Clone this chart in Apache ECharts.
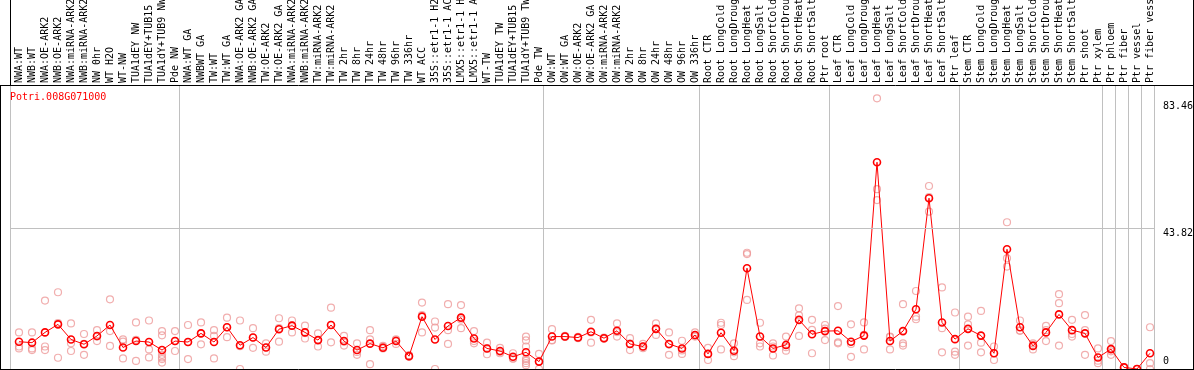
<!DOCTYPE html>
<html>
<head>
<meta charset="utf-8">
<script src="https://cdn.jsdelivr.net/npm/echarts@6/dist/echarts.min.js"></script>
<style>
html,body{margin:0;padding:0;background:#fff;}
#chart{width:1194px;height:370px;}
</style>
</head>
<body>
<div id="chart"></div>
<script>
const geneName = 'Potri.008G071000';

const categories = [
'NWA:WT','NWB:WT','NWA:OE-ARK2','NWB:OE-ARK2','NWA:miRNA-ARK2','NWB:miRNA-ARK2','NW 0hr','WT H2O','WT-NW','TUA1dEY NW','TUA1dEY+TUB15 NW','TUA1dY+TUB9 NW','Pde NW',
'NWA:WT GA','NWBWT GA','TW:WT','TW:WT GA','NWA:OE-ARK2 GA','NWB:OE-ARK2 GA','TW:OE-ARK2','TW:OE-ARK2 GA','NWA:miRNA-ARK2','NWB:miRNA-ARK2','TW:miRNA-ARK2','TW:miRNA-ARK2','TW 2hr','TW 8hr','TW 24hr','TW 48hr','TW 96hr','TW 336hr','WT ACC','35S::etr1-1 H2O','35S::etr1-1 ACC','LMX5::etr1-1 H2O','LMX5::etr1-1 ACC','WT-TW','TUA1dEY TW','TUA1dEY+TUB15 TW','TUA1dY+TUB9 TW','Pde TW',
'OW:WT','OW:WT GA','OW:OE-ARK2','OW:OE-ARK2 GA','OW:miRNA-ARK2','OW:miRNA-ARK2','OW 2hr','OW 8hr','OW 24hr','OW 48hr','OW 96hr','OW 336hr',
'Root CTR','Root LongCold','Root LongDrought','Root LongHeat','Root LongSalt','Root ShortCold','Root ShortDrought','Root ShortHeat','Root ShortSalt','Ptr root',
'Leaf CTR','Leaf LongCold','Leaf LongDrought','Leaf LongHeat','Leaf LongSalt','Leaf ShortCold','Leaf ShortDrought','Leaf ShortHeat','Leaf ShortSalt','Ptr leaf',
'Stem CTR','Stem LongCold','Stem LongDrought','Stem LongHeat','Stem LongSalt','Stem ShortCold','Stem ShortDrought','Stem ShortHeat','Stem ShortSalt','Ptr shoot','Ptr xylem',
'Ptr phloem','Ptr fiber','Ptr vessel','Ptr fiber vessel'
];

// index of first category of each sample group (group separators)
const groupStarts = [0, 13, 41, 53, 63, 73, 84, 85, 86, 87];

// y-axis labels shown on the right
const yTickLabels = [43.82, 83.46];
const yZeroLabel = [0];
const yMax = 88.45;

const meanValues = [
8.5, 8.2, 11.4, 13.9, 9.2, 7.7, 10.3, 13.7, 6.7, 8.7, 8.4, 5.9, 8.7,
8.4, 11.1, 8.4, 13.0, 7.4, 9.8, 6.7, 12.4, 13.5, 11.4, 9.0, 13.7, 8.7, 5.9, 7.9, 6.6, 8.7, 4.0, 16.3, 9.2, 13.4, 16.0, 9.5, 6.4, 5.6, 3.8, 5.2, 2.3,
10.1, 10.1, 9.8, 11.6, 9.6, 11.9, 7.8, 7.0, 12.5, 7.8, 6.4, 10.6,
4.7, 11.3, 5.7, 31.4, 10.1, 6.4, 7.5, 15.3, 10.8, 11.8,
11.9, 8.5, 10.4, 64.4, 8.7, 11.8, 18.6, 53.2, 14.5, 9.3,
12.5, 10.4, 4.9, 37.3, 13.0, 7.2, 11.4, 17.0, 12.1, 11.1, 3.6,
6.2, 0.5, 0.0, 4.9
];

const replicateValues = [
[11.4, 7.0, 6.4], [11.4, 6.4, 5.9], [21.3, 7.0, 5.9], [23.9, 3.5, 14.3], [14.2, 8.0, 5.6], [10.9, 4.4, 7.8], [12.1, 10.1, 8.7], [21.7, 11.8, 7.2], [9.2, 8.5, 3.3], [14.5, 9.1, 2.5], [15.1, 6.1, 3.6], [11.8, 10.5, 4.4, 3.1, 2.0, 3.6], [11.8, 5.6, 8.7],
[13.7, 3.1, 8.4], [14.5, 7.7, 11.1], [12.1, 10.3, 3.3], [16.0, 9.9, 13.0], [15.1, 0.0, 7.1], [12.7, 6.6, 9.8], [8.0, 5.4, 6.7], [15.8, 8.5, 12.7], [15.1, 11.4, 13.6], [13.5, 9.5, 11.2], [11.1, 7.0, 9.0], [19.1, 8.3, 13.7], [10.3, 7.3, 8.5], [8.0, 4.4, 5.3], [12.1, 9.2, 1.5], [7.2, 6.4, 6.9], [9.2, 7.8, 9.0], [4.0, 3.8, 4.3], [20.7, 11.4, 16.8], [14.8, 12.9, 0.0], [20.2, 12.1, 7.8], [19.9, 12.7, 15.4], [11.8, 8.0, 8.7], [8.2, 4.6, 6.4], [6.6, 4.9, 5.3], [4.9, 3.3, 3.2], [10.1, 8.9, 7.0, 3.1, 2.5, 1.8, 1.2], [4.7, 0.0, 2.3],
[12.4, 9.0, 8.9], [10.0, 10.3, 10.1], [9.6, 10.0, 9.8], [15.3, 8.2, 11.4], [9.6, 9.4, 9.8], [14.2, 10.1, 11.5], [9.6, 5.9, 7.9], [7.8, 7.0, 6.5], [14.2, 10.6, 12.6], [11.4, 4.4, 7.6], [8.8, 4.7, 5.8], [11.4, 10.1, 10.4],
[6.6, 2.8, 4.7], [14.4, 13.7, 6.1], [8.0, 4.0, 5.2], [36.2, 35.8, 21.5], [14.4, 8.0, 7.0], [8.0, 4.2, 7.0], [10.1, 5.7, 6.8], [18.9, 10.3, 16.7], [15.3, 4.9, 12.2], [13.7, 9.0, 12.6],
[19.6, 8.3, 8.0], [13.9, 3.8, 7.8], [14.5, 6.1, 10.6], [84.3, 56.0, 52.6], [10.1, 6.1, 9.9], [20.2, 8.0, 7.3], [24.3, 16.3, 15.5], [57.0, 49.0, 53.5], [25.4, 12.7, 5.2], [17.6, 5.4, 4.4],
[16.3, 7.3, 13.9], [18.1, 8.2, 5.2], [7.0, 2.8, 4.9], [45.7, 34.5, 31.9], [15.1, 11.9, 12.0], [8.0, 6.1, 7.5], [13.4, 8.7, 12.1], [23.3, 20.5, 7.3], [15.3, 10.1, 10.9], [16.8, 4.4, 12.1], [6.4, 1.8, 2.6],
[8.7, 4.4, 5.5], [0.6, 0.4, 0.5], [0.0, 0.0, 0.0], [13.0, 1.8, 0.0]
];

const replicatePoints = [];
replicateValues.forEach((reps, i) => reps.forEach(v => replicatePoints.push([i, v])));

const FONT = 'DejaVu Sans Mono';
const isGroupStart = (idx) => groupStarts.indexOf(idx) >= 0;

const chart = echarts.init(document.getElementById('chart'), null, {renderer: 'canvas'});
chart.setOption({
  animation: false,
  backgroundColor: '#fff',
  title: {
    text: geneName, left: 10, top: 92, padding: 0,
    textStyle: {color: '#ff0000', fontFamily: FONT, fontSize: 10, fontWeight: 'normal'}
  },
  grid: [
    {left: 10, top: 85, width: 1144, height: 284, outerBoundsMode: 'none', containLabel: false},
    {left: 12.5, top: 85, width: 1144, height: 284, outerBoundsMode: 'none', containLabel: false}
  ],
  xAxis: [
    {
      type: 'category', gridIndex: 0, position: 'top', data: categories,
      axisLine: {show: false},
      axisLabel: {show: false},
      axisTick: {show: true, inside: false, length: 85, interval: isGroupStart,
                 lineStyle: {color: '#c0c0c0', width: 1}},
      splitLine: {show: true, interval: isGroupStart, lineStyle: {color: '#c0c0c0', width: 1}}
    },
    {
      type: 'category', gridIndex: 1, position: 'top', data: categories,
      axisLine: {show: false}, axisTick: {show: false}, splitLine: {show: false},
      axisLabel: {show: true, interval: 0, rotate: 90, margin: 2, hideOverlap: false,
                  fontFamily: FONT, fontSize: 10, color: '#000'}
    }
  ],
  yAxis: [
    {
      type: 'value', gridIndex: 0, position: 'right', min: 0, max: yMax,
      axisLine: {show: false}, axisTick: {show: false}, splitLine: {show: false},
      axisLabel: {show: true, customValues: yTickLabels, margin: 9, verticalAlign: 'top',
                  fontFamily: FONT, fontSize: 10, color: '#000'}
    },
    {
      type: 'value', gridIndex: 0, position: 'right', min: 0, max: yMax,
      axisLine: {show: false}, axisTick: {show: false}, splitLine: {show: false},
      axisLabel: {show: true, customValues: yZeroLabel, margin: 9, verticalAlign: 'bottom',
                  padding: [0, 0, 3, 0],
                  fontFamily: FONT, fontSize: 10, color: '#000'}
    },
    {
      type: 'value', gridIndex: 1, min: 0, max: yMax, show: false
    }
  ],
  graphic: [
    {type: 'line', silent: true, shape: {x1: 0, y1: 85.5, x2: 1194, y2: 85.5}, style: {stroke: '#000', lineWidth: 1}, z: 100},
    {type: 'line', silent: true, shape: {x1: 0, y1: 369.5, x2: 1194, y2: 369.5}, style: {stroke: '#000', lineWidth: 1}, z: 100},
    {type: 'line', silent: true, shape: {x1: 0.5, y1: 85, x2: 0.5, y2: 370}, style: {stroke: '#000', lineWidth: 1}, z: 100},
    {type: 'line', silent: true, shape: {x1: 1193.5, y1: 0, x2: 1193.5, y2: 370}, style: {stroke: '#000', lineWidth: 1}, z: 100},
    {type: 'line', silent: true, shape: {x1: 10.5, y1: 0, x2: 10.5, y2: 85}, style: {stroke: '#000', lineWidth: 1}, z: 100}
  ],
  series: [
    {
      type: 'line', xAxisIndex: 0, yAxisIndex: 0, data: [], silent: true,
      markLine: {
        silent: true, symbol: 'none', label: {show: false}, animation: false,
        lineStyle: {color: '#c0c0c0', type: 'solid', width: 1},
        emphasis: {disabled: true},
        data: [{yAxis: yTickLabels[0]}]
      }
    },
    {
      type: 'scatter', xAxisIndex: 1, yAxisIndex: 2, data: replicatePoints, silent: true,
      symbol: 'circle', symbolSize: 7,
      itemStyle: {color: 'rgba(0,0,0,0)', borderColor: '#ee9a9a', borderWidth: 1.2},
      z: 2
    },
    {
      type: 'line', xAxisIndex: 1, yAxisIndex: 2, data: meanValues, silent: true,
      symbol: 'circle', symbolSize: 7, showAllSymbol: true,
      lineStyle: {color: '#ff0000', width: 1},
      itemStyle: {color: 'rgba(0,0,0,0)', borderColor: '#ff0000', borderWidth: 1.6},
      z: 3
    }
  ]
});
</script>
</body>
</html>
